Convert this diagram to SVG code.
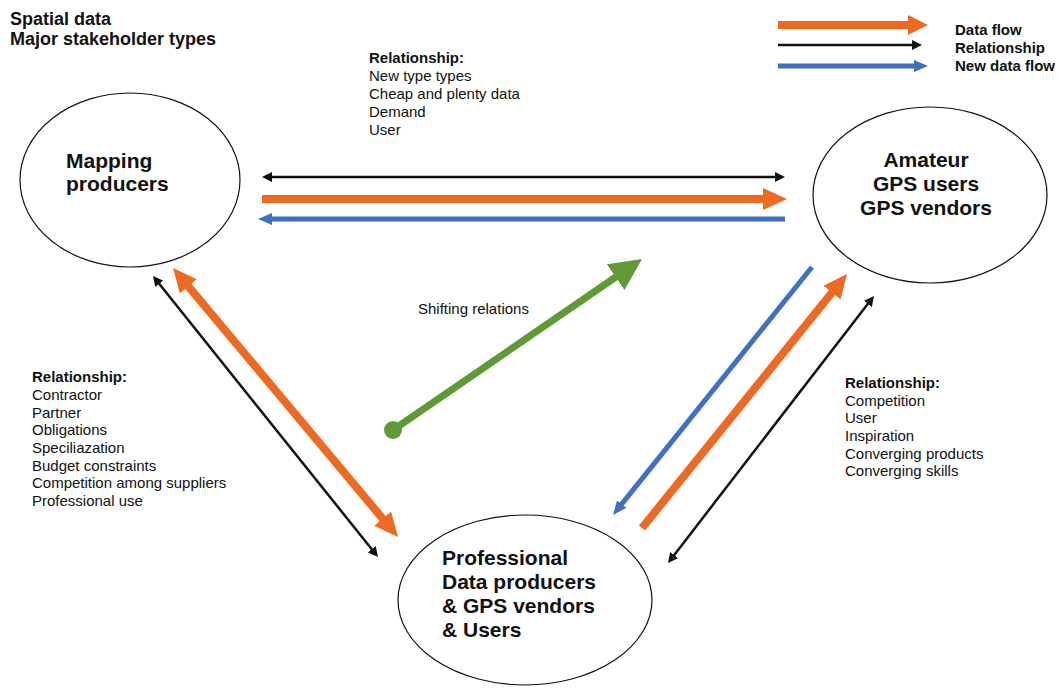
<svg xmlns="http://www.w3.org/2000/svg" width="1059" height="688" viewBox="0 0 1059 688">
  <style>
    text { font-family: "Liberation Sans", Arial, sans-serif; fill: #111; }
    .title { font-size: 18px; font-weight: bold; }
    .legend { font-size: 15px; font-weight: bold; }
    .node-label { font-size: 21px; font-weight: bold; }
    .note { font-size: 15px; }
    .note .head { font-weight: bold; }
    .node { fill: #fff; stroke: #111; stroke-width: 1.2; }
    .data { stroke: #EE6A22; stroke-width: 8; fill: none; }
    .rel { stroke: #111; stroke-width: 2.5; fill: none; }
    .newdata { stroke: #4070C0; stroke-width: 5; fill: none; }
    .shift { stroke: #5E9B35; stroke-width: 7; fill: none; }
  </style>
  <defs>
    <marker id="hOrange" markerUnits="userSpaceOnUse" markerWidth="25" markerHeight="22" refX="2" refY="11" orient="auto-start-reverse">
      <path d="M0,0 L24,11 L0,22 Z" fill="#EE6A22"/>
    </marker>
    <marker id="hOrangeS" markerUnits="userSpaceOnUse" markerWidth="21" markerHeight="20" refX="2" refY="10" orient="auto">
      <path d="M0,0 L20,10 L0,20 Z" fill="#EE6A22"/>
    </marker>
    <marker id="hBlack" markerUnits="userSpaceOnUse" markerWidth="11" markerHeight="10" refX="1" refY="5" orient="auto-start-reverse">
      <path d="M0,0 L10,5 L0,10 Z" fill="#111"/>
    </marker>
    <marker id="hBlue" markerUnits="userSpaceOnUse" markerWidth="15" markerHeight="12" refX="1" refY="6" orient="auto">
      <path d="M0,0 L14,6 L0,12 Z" fill="#4070C0"/>
    </marker>
    <marker id="hGreen" markerUnits="userSpaceOnUse" markerWidth="33" markerHeight="31" refX="2" refY="15.5" orient="auto">
      <path d="M0,0 L32,15.5 L0,31 Z" fill="#5E9B35"/>
    </marker>
  </defs>

  <rect width="1059" height="688" fill="#fff"/>

  <!-- title -->
  <g id="title">
    <text class="title" x="10" y="25">Spatial data</text>
    <text class="title" x="10" y="45">Major stakeholder types</text>
  </g>

  <!-- legend -->
  <g id="legend">
    <line class="data" x1="778" y1="25" x2="910" y2="25" stroke-width="7" marker-end="url(#hOrangeS)"/>
    <line class="rel" x1="778" y1="45" x2="913" y2="45" marker-end="url(#hBlack)"/>
    <line class="newdata" x1="778" y1="66" x2="915" y2="66" marker-end="url(#hBlue)"/>
    <text class="legend" x="955" y="35">Data flow</text>
    <text class="legend" x="955" y="53">Relationship</text>
    <text class="legend" x="955" y="71">New data flow</text>
  </g>

  <!-- stakeholder nodes -->
  <g id="node-mapping">
    <ellipse class="node" cx="130" cy="180" rx="110" ry="87"/>
    <text class="node-label" x="66" y="168">Mapping</text>
    <text class="node-label" x="66" y="191">producers</text>
  </g>
  <g id="node-amateur">
    <ellipse class="node" cx="930" cy="195" rx="117" ry="88"/>
    <text class="node-label" x="926" y="167" text-anchor="middle">Amateur</text>
    <text class="node-label" x="926" y="191" text-anchor="middle">GPS users</text>
    <text class="node-label" x="926" y="215" text-anchor="middle">GPS vendors</text>
  </g>
  <g id="node-professional">
    <ellipse class="node" cx="525" cy="600" rx="127" ry="85"/>
    <text class="node-label" x="442" y="565">Professional</text>
    <text class="node-label" x="442" y="589">Data producers</text>
    <text class="node-label" x="442" y="613">&amp; GPS vendors</text>
    <text class="node-label" x="442" y="637">&amp; Users</text>
  </g>

  <!-- connectors -->
  <g id="connectors">
    <!-- mapping <-> amateur -->
    <line class="rel" x1="271" y1="177" x2="776" y2="177" marker-start="url(#hBlack)" marker-end="url(#hBlack)"/>
    <line class="data" x1="262" y1="199" x2="765" y2="199" marker-end="url(#hOrange)"/>
    <line class="newdata" x1="785" y1="219" x2="271" y2="219" marker-end="url(#hBlue)"/>
    <!-- mapping <-> professional -->
    <line class="rel" x1="158.6" y1="283" x2="372.4" y2="550" marker-start="url(#hBlack)" marker-end="url(#hBlack)"/>
    <line class="data" x1="187.1" y1="284.9" x2="383.9" y2="520.1" marker-start="url(#hOrange)" marker-end="url(#hOrange)"/>
    <!-- professional <-> amateur -->
    <line class="newdata" x1="812" y1="267" x2="621.1" y2="504.9" marker-end="url(#hBlue)"/>
    <line class="data" x1="642" y1="528" x2="833.2" y2="291.1" marker-end="url(#hOrange)"/>
    <line class="rel" x1="673.5" y1="555.9" x2="868.5" y2="303.1" marker-start="url(#hBlack)" marker-end="url(#hBlack)"/>
    <!-- shifting relations -->
    <circle cx="393" cy="430" r="9" fill="#5E9B35"/>
    <line class="shift" x1="393" y1="430" x2="617.3" y2="276" marker-end="url(#hGreen)"/>
  </g>

  <!-- relationship notes -->
  <g id="note-top" class="note">
    <text class="head" x="369" y="63">Relationship:</text>
    <text x="369" y="81">New type types</text>
    <text x="369" y="99">Cheap and plenty data</text>
    <text x="369" y="117">Demand</text>
    <text x="369" y="135">User</text>
  </g>
  <g id="note-left" class="note">
    <text class="head" x="32" y="382">Relationship:</text>
    <text x="32" y="400">Contractor</text>
    <text x="32" y="418">Partner</text>
    <text x="32" y="435">Obligations</text>
    <text x="32" y="453">Speciliazation</text>
    <text x="32" y="471">Budget constraints</text>
    <text x="32" y="488">Competition among suppliers</text>
    <text x="32" y="506">Professional use</text>
  </g>
  <g id="note-right" class="note">
    <text class="head" x="845" y="388">Relationship:</text>
    <text x="845" y="406">Competition</text>
    <text x="845" y="423">User</text>
    <text x="845" y="441">Inspiration</text>
    <text x="845" y="459">Converging products</text>
    <text x="845" y="476">Converging skills</text>
  </g>
  <text class="note" x="418" y="314">Shifting relations</text>
</svg>
